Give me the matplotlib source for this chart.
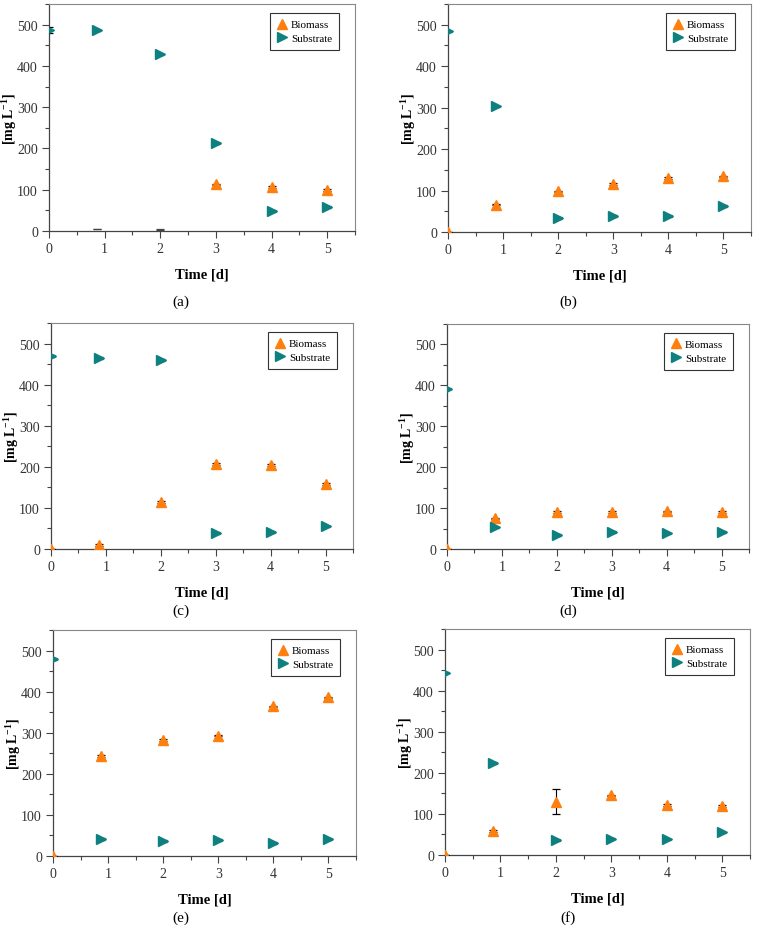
import numpy as np
import matplotlib.pyplot as plt
from matplotlib.ticker import MultipleLocator
from matplotlib.lines import Line2D

plt.rcParams['font.family'] = ['Liberation Serif', 'DejaVu Serif']
plt.rcParams['mathtext.fontset'] = 'custom'
plt.rcParams['mathtext.rm'] = 'Liberation Serif'
plt.rcParams['mathtext.bf'] = 'Liberation Serif:bold'

########################################
# Data
########################################

time = [0, 0.87, 2, 3, 4, 5]

# substrate [mg/L]
sub_a = [487, 486, 428, 214, 49, 58]
sub_b = [484, 303, 34, 38, 38, 62]
sub_c = [469, 465, 460, 39, 41, 55]
sub_d = [392, 53, 35, 41, 38, 41]
sub_e = [480, 41, 36, 39, 32, 41]
sub_f = [444, 224, 37, 40, 38, 55]

# biomass [mg/L] (nan = no marker drawn)
bio_a = [np.nan, np.nan, np.nan, 113, 106, 99]
bio_b = [0, 66, 98, 115, 131, 134]
bio_c = [0, 10, 115, 207, 205, 158]
bio_d = [0, 75, 91, 90, 92, 90]
bio_e = [0, 244, 282, 293, 364, 386]
bio_f = [0, 59, 130, 145, 121, 119]

# error bars (standard deviation)
sub_err_a = [8, 2, 2, 2, 2, 2]
sub_err = [2, 2, 2, 2, 2, 2]
bio_err = [1, 2, 2, 2, 2, 2]
bio_err_f = [1, 2, 31, 2, 2, 2]

# panel (a): only error caps visible for biomass on day 0.87 and 2
caps_a_t = [0.87, 2]
caps_a_val = [5, 4]

panels = ['(a)', '(b)', '(c)', '(d)', '(e)', '(f)']
substrate = [sub_a, sub_b, sub_c, sub_d, sub_e, sub_f]
biomass = [bio_a, bio_b, bio_c, bio_d, bio_e, bio_f]
sub_errs = [sub_err_a, sub_err, sub_err, sub_err, sub_err, sub_err]
bio_errs = [bio_err, bio_err, bio_err, bio_err, bio_err, bio_err_f]

ORANGE = '#ff7f0e'
TEAL = '#0e8080'

########################################
# Layout
########################################

W, H = 757, 928
fig = plt.figure(figsize=(W / 100, H / 100), dpi=100)

# left, top, right, bottom in pixels
boxes = [(49, 5, 355, 232), (448, 5, 751, 233),
         (51, 324, 353, 550), (447, 325, 749, 550),
         (53, 631, 356, 857), (445, 630, 750, 856)]
caption_xy = [(181, 302), (568, 302), (181, 611), (568, 611), (181, 918), (568, 918)]

handles = [Line2D([], [], ls='none', marker='^', color=ORANGE, markersize=7, label='Biomass'),
           Line2D([], [], ls='none', marker='>', color=TEAL, markersize=7, label='Substrate')]

for i, (l, t, r, b) in enumerate(boxes):
    ax = fig.add_axes([l / W, 1 - b / H, (r - l) / W, (b - t) / H])

    ax.errorbar(time, biomass[i], yerr=bio_errs[i], fmt='^', color=ORANGE,
                markersize=7, ecolor='black', elinewidth=0.8, capsize=3,
                capthick=0.9, zorder=3)
    ax.errorbar(time, substrate[i], yerr=sub_errs[i], fmt='>', color=TEAL,
                markersize=7, ecolor='black', elinewidth=0.8, capsize=3,
                capthick=0.9, zorder=3)
    if i == 0:
        ax.errorbar(caps_a_t, caps_a_val, yerr=0.5, fmt='none', ecolor='#444444',
                    elinewidth=0.8, capsize=3, capthick=0.9)

    ax.set_xlim(0, 5.5)
    ax.set_ylim(0, 550)
    ax.set_xticks(range(6))
    ax.set_yticks(range(0, 501, 100))
    ax.xaxis.set_minor_locator(MultipleLocator(0.5))
    ax.yaxis.set_minor_locator(MultipleLocator(50))
    ax.tick_params(which='both', direction='out', top=False, right=False,
                   labelsize=10, color='#444444', labelcolor='#333333')
    ax.tick_params(which='major', length=5, width=0.8, pad=3)
    ax.tick_params(which='minor', length=3, width=0.8)
    for side in ['left', 'bottom']:
        ax.spines[side].set_color('#444444')
        ax.spines[side].set_linewidth(0.9)
    for side in ['top', 'right']:
        ax.spines[side].set_color('#888888')
        ax.spines[side].set_linewidth(0.8)

    ax.set_xlabel('Time [d]', fontsize=10.5, fontweight='bold', labelpad=9)
    ax.set_ylabel(r'[mg L$^{\mathbf{-1}}$]', fontsize=10, fontweight='bold')
    ax.yaxis.set_label_coords(-30 / (r - l), 0.5)

    leg = ax.legend(handles=handles, loc='upper right', fontsize=8,
                    fancybox=False, edgecolor='#333333', framealpha=1,
                    handletextpad=0.3, handlelength=1.0, borderpad=0.6,
                    labelspacing=0.35, bbox_to_anchor=(0.965, 0.985))
    leg.get_frame().set_linewidth(0.8)

    cx, cy = caption_xy[i]
    fig.text(cx / W, 1 - cy / H, panels[i], ha='center', va='center', fontsize=11)

fig.savefig('out.png', dpi=100)
